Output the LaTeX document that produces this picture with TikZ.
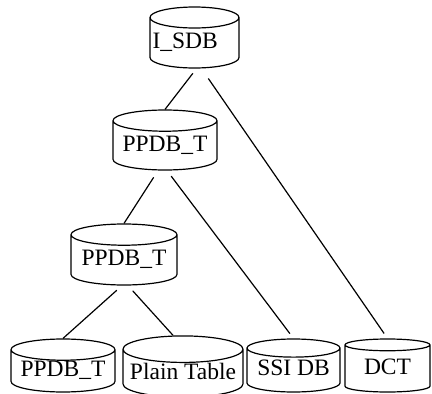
\documentclass[tikz,border=0pt]{standalone}
\usepackage{fontspec}
\setmainfont{Liberation Serif}
\usetikzlibrary{shapes.geometric}
\newcommand{\dblabel}[1]{\raisebox{4.5pt}{#1}}
\begin{document}
\begin{tikzpicture}[x=1pt,y=-1pt,
  db/.style={cylinder, shape border rotate=90, aspect=0.25, draw,
    line width=1.2pt, inner sep=0pt, anchor=shape center,
    font=\fontsize{23.5}{23.5}\selectfont},
  link/.style={line width=1.2pt}]
\useasboundingbox (0,0) rectangle (432,394);

% database nodes
\node[db, minimum width=89, minimum height=61] (isdb) at (194.5,37.5) {\dblabel{\makebox[84pt][l]{I\_SDB}}};
\node[db, minimum width=104, minimum height=60] (ppdbA) at (165,140) {\dblabel{PPDB\_T}};
\node[db, minimum width=106, minimum height=61] (ppdbB) at (124,254.5) {\dblabel{PPDB\_T}};
\node[db, minimum width=104, minimum height=53] (ppdbC) at (63,365.5) {\dblabel{PPDB\_T}};
\node[db, minimum width=120, minimum height=53] (plain) at (183,366.5) {\dblabel{Plain Table}};
\node[db, minimum width=93, minimum height=53] (ssi) at (293.5,365.5) {\dblabel{SSI DB}};
\node[db, minimum width=85, minimum height=53] (dct) at (387.5,365.5) {\dblabel{DCT}};

% tree links
\draw[link, shorten <=6pt] ([xshift=2pt]isdb.south) -- (ppdbA.north);
\draw[link, shorten <=12pt, shorten >=6pt] ([xshift=7pt]isdb.south) -- (dct.north);
\draw[link, shorten <=8pt] ([xshift=-7pt]ppdbA.south) -- (ppdbB.north);
\draw[link, shorten <=7pt, shorten >=6pt] ([xshift=2pt]ppdbA.south) -- (ssi.north);
\draw[link, shorten <=7pt] ([xshift=-2pt]ppdbB.south) -- (ppdbC.north);
\draw[link, shorten <=7pt] ([xshift=4pt]ppdbB.south) -- ([xshift=-10pt]plain.north);
\end{tikzpicture}
\end{document}
